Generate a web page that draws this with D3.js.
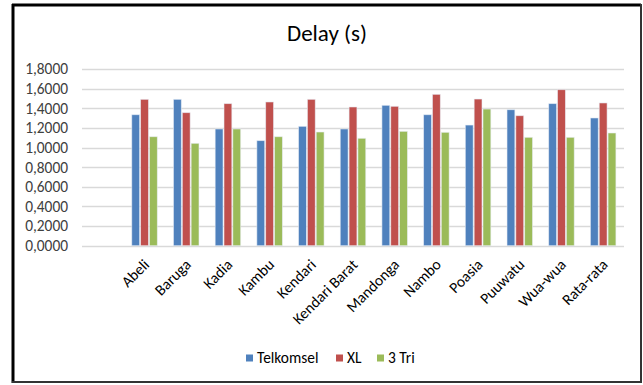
<!DOCTYPE html>
<html>
<head>
<meta charset="utf-8">
<script src="https://cdn.jsdelivr.net/npm/d3@7"></script>
<style>
  body { margin: 0; background: #fff; }
  text { font-family: Carlito, Lato, "Liberation Sans", sans-serif; fill: #404040; }
</style>
</head>
<body>
<div id="chart"></div>
<script>
// data
const categories = ['Abeli', 'Baruga', 'Kadia', 'Kambu', 'Kendari', 'Kendari Barat',
  'Mandonga', 'Nambo', 'Poasia', 'Puuwatu', 'Wua-wua', 'Rata-rata'];
const seriesNames = ['Telkomsel', 'XL', '3 Tri'];
const telkomsel = [1.334, 1.491, 1.189, 1.070, 1.216, 1.189, 1.430, 1.334, 1.229, 1.385, 1.447, 1.301];
const xl        = [1.491, 1.355, 1.447, 1.464, 1.491, 1.413, 1.420, 1.542, 1.494, 1.324, 1.589, 1.454];
const tri       = [1.110, 1.043, 1.189, 1.110, 1.158, 1.094, 1.165, 1.155, 1.392, 1.104, 1.104, 1.148];
const yTicks = [0, 0.2, 0.4, 0.6, 0.8, 1.0, 1.2, 1.4, 1.6, 1.8];

const colors = ['#4F81BD', '#C0504D', '#9BBB59'];
const values = [telkomsel, xl, tri];

const W = 643, H = 385;
const margin = { top: 69, left: 82, right: 19, bottom: 139 };

const svg = d3.select('#chart').append('svg')
  .attr('width', W)
  .attr('height', H);

// frame
svg.append('rect').attr('x', 0).attr('y', 0).attr('width', W).attr('height', H).attr('fill', '#fff');
svg.append('line').attr('x1', 13).attr('x2', 13).attr('y1', 4).attr('y2', 383)
  .attr('stroke', '#000').attr('stroke-width', 3);
svg.append('line').attr('x1', 12).attr('x2', 641).attr('y1', 5).attr('y2', 5)
  .attr('stroke', '#000').attr('stroke-width', 3);
svg.append('line').attr('x1', 641).attr('x2', 641).attr('y1', 4).attr('y2', 382)
  .attr('stroke', '#333').attr('stroke-width', 2);
svg.append('line').attr('x1', 12).attr('x2', 642).attr('y1', 382).attr('y2', 382)
  .attr('stroke', '#333').attr('stroke-width', 2);

// title
svg.append('text')
  .attr('x', 327).attr('y', 41)
  .attr('text-anchor', 'middle')
  .style('font-size', '23px')
  .style('fill', '#000')
  .text('Delay (s)');

const innerW = W - margin.left - margin.right;
const y = d3.scaleLinear().domain([0, 1.8]).range([245.7, margin.top]);

// the source sheet has an empty first category, keep its slot
const x0 = d3.scaleBand()
  .domain([''].concat(categories))
  .range([margin.left, margin.left + innerW]);

const groupW = 26.5;
const x1 = d3.scaleBand()
  .domain(seriesNames)
  .range([0, groupW]);

// gridlines
svg.append('g')
  .selectAll('line')
  .data(yTicks)
  .join('line')
  .attr('x1', margin.left)
  .attr('x2', margin.left + innerW)
  .attr('y1', d => Math.round(y(d)) + 0.5)
  .attr('y2', d => Math.round(y(d)) + 0.5)
  .attr('stroke', '#D9D9D9')
  .attr('stroke-width', 1.5);

// y tick labels
svg.append('g')
  .selectAll('text')
  .data(yTicks)
  .join('text')
  .attr('x', 68)
  .attr('y', d => y(d))
  .attr('dy', '0.35em')
  .attr('text-anchor', 'end')
  .style('font-size', '15.4px')
  .text(d => d.toFixed(4).replace('.', ','));

// bars
seriesNames.forEach((name, si) => {
  svg.append('g')
    .selectAll('rect')
    .data(categories.map((c, i) => ({ c, v: values[si][i] })))
    .join('rect')
    .attr('x', d => x0(d.c) + x0.bandwidth() / 2 - groupW / 2 + x1(name) + 0.5)
    .attr('y', d => y(d.v))
    .attr('width', x1.bandwidth() - 1)
    .attr('height', d => y(0) - y(d.v))
    .attr('fill', colors[si])
    .attr('stroke', '#e8eef6')
    .attr('stroke-opacity', 0.7)
    .attr('stroke-width', 0.8);
});

// category labels
svg.append('g')
  .selectAll('text')
  .data(categories)
  .join('text')
  .attr('transform', d => `translate(${x0(d) + x0.bandwidth() / 2 - 2},258) rotate(-45)`)
  .attr('text-anchor', 'end')
  .attr('dy', '0.7em')
  .style('font-size', '15.4px')
  .style('fill', '#000')
  .text(d => d);

// legend
const legendX = [246, 336, 377];
const legend = svg.append('g');
seriesNames.forEach((name, i) => {
  legend.append('rect')
    .attr('x', legendX[i]).attr('y', 354.5)
    .attr('width', 7).attr('height', 7)
    .attr('fill', colors[i]);
  legend.append('text')
    .attr('x', legendX[i] + 11).attr('y', 358)
    .attr('dy', '0.35em')
    .style('font-size', '15.4px')
    .style('fill', '#000')
    .text(name);
});
</script>
</body>
</html>
